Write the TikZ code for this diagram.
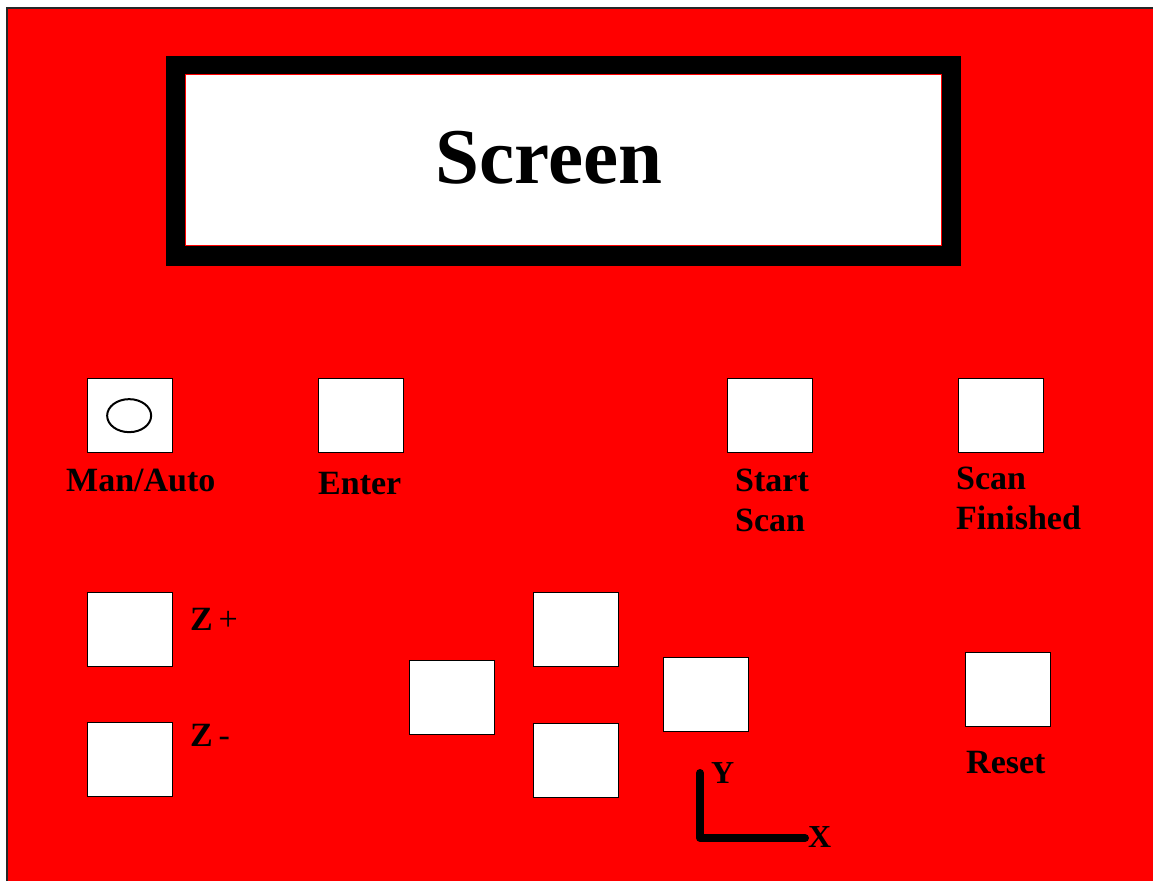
\documentclass[tikz,border=0pt]{standalone}
\usepackage{fontspec}
\setmainfont{Liberation Serif}

\tikzset{
  panel_key/.style={draw=black, fill=white, line width=1.3pt, anchor=north west,
    minimum width=85pt, minimum height=74pt, inner sep=0pt},
  key_label/.style={font=\bfseries\fontsize{34}{40}\selectfont, inner sep=0pt,
    align=left, anchor=north west},
}

\begin{document}
\begin{tikzpicture}[x=1pt, y=-1pt]
  \useasboundingbox (0,0) rectangle (1153,881);
  \fill[white] (0,0) rectangle (1153,881);

  % panel body
  \fill[red] (7,8) rectangle (1153,881);
  \draw[black!85, line width=1.8pt] (7,881) -- (7,8) -- (1153,8);

  % screen
  \fill[black] (166,56) rectangle (961,266);
  \node (screen) [draw=red, fill=white, line width=1pt, anchor=north west,
    minimum width=756pt, minimum height=171pt, inner sep=0pt] at (185,74) {};
  \node (screen_txt) [font=\bfseries\fontsize{79}{90}\selectfont, inner sep=0pt,
    anchor=base] at (549,183) {Screen};

  % upper row of keys
  \node (man_auto) [panel_key] at (87,378) {};
  \draw[line width=2pt] (man_auto.center) ++(-1,0) circle [x radius=22pt, y radius=16.5pt];
  \node (enter) [panel_key] at (318,378) {};
  \node (start_scan) [panel_key] at (727,378) {};
  \node (scan_done) [panel_key] at (958,378) {};

  \node (man_auto_lbl) [key_label] at (66,469) {Man/Auto};
  \node (enter_lbl) [key_label] at (318,472) {Enter};
  \node (start_scan_lbl) [key_label] at (735,469) {Start\\Scan};
  \node (scan_done_lbl) [key_label] at (956,467) {Scan\\Finished};

  % z keys
  \node (z_up) [panel_key] at (87,592) {};
  \node (z_down) [panel_key] at (87,722) {};
  \node (z_up_lbl) [key_label] at (190,608) {Z\,{\mdseries+}};
  \node (z_down_lbl) [key_label] at (190,724) {Z\,{\mdseries-}};

  % xy keys
  \node (xy_left) [panel_key] at (409,660) {};
  \node (xy_up) [panel_key] at (533,592) {};
  \node (xy_down) [panel_key] at (533,723) {};
  \node (xy_right) [panel_key] at (663,657) {};

  % reset
  \node (reset) [panel_key] at (965,652) {};
  \node (reset_lbl) [key_label] at (966,751) {Reset};

  % axis
  \coordinate (ax_top) at (700,773);
  \coordinate (ax_oo) at (700,838);
  \coordinate (ax_right) at (805,838);
  \draw[line width=8pt, line cap=round, line join=round] (ax_top) -- (ax_oo) -- (ax_right);
  \node (y_lbl) [key_label, font=\bfseries\fontsize{32}{40}\selectfont] at (711,762) {Y};
  \node (x_lbl) [key_label, font=\bfseries\fontsize{32}{40}\selectfont] at (808,826) {X};
\end{tikzpicture}
\end{document}
